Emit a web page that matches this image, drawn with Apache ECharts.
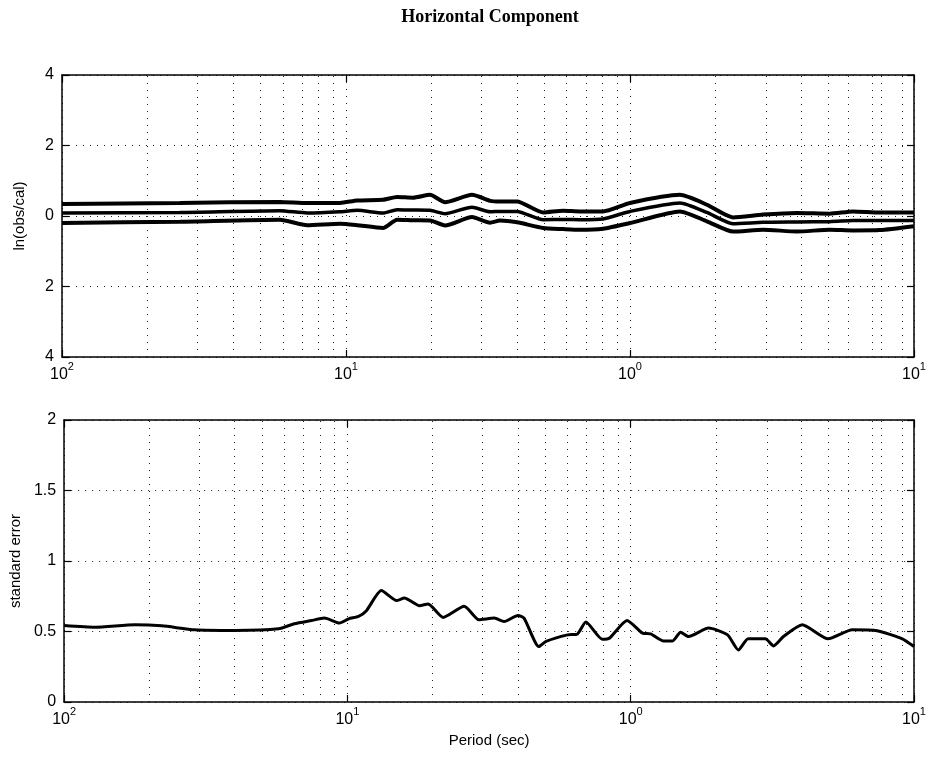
<!DOCTYPE html>
<html>
<head>
<meta charset="utf-8">
<script src="https://cdn.jsdelivr.net/npm/echarts@6/dist/echarts.min.js"></script>
<style>html,body{margin:0;padding:0;background:#fff}#c{width:931px;height:759px}</style>
</head>
<body>
<div id="c"></div>
<script>
// ---- data ----
const titleText = 'Horizontal Component';
const xTickValues = [100, 10, 1, 0.1];
const xTickSup = ['2', '1', '0', '1'];
// dotted minor grid positions as they appear in the reference (per decade, clustered toward the right end)
const minorTicks = [50, 33.33, 25, 20, 16.67, 14.29, 12.5, 11.11, 5, 3.333, 2.5, 2, 1.667, 1.429, 1.25, 1.111, 0.5, 0.3333, 0.25, 0.2, 0.1667, 0.1429, 0.125, 0.1111];

const topPeriod = [100, 38.5, 17.1, 13.7, 10.5, 9.14, 7.41, 6.61, 5.81, 5.06, 4.48, 3.60, 3.11, 2.87, 2.50, 2.02, 1.72, 1.50, 1.245, 1.0, 0.667, 0.536, 0.434, 0.340, 0.258, 0.198, 0.164, 0.132, 0.1];
const upperLn = [0.34, 0.37, 0.40, 0.37, 0.37, 0.44, 0.46, 0.54, 0.52, 0.60, 0.39, 0.60, 0.43, 0.41, 0.41, 0.10, 0.15, 0.13, 0.13, 0.37, 0.60, 0.32, -0.04, 0.04, 0.085, 0.065, 0.13, 0.10, 0.10];
const meanLn = [0.085, 0.10, 0.15, 0.085, 0.12, 0.16, 0.085, 0.18, 0.17, 0.16, 0.065, 0.25, 0.12, 0.13, 0.13, -0.105, -0.10, -0.105, -0.085, 0.13, 0.37, 0.10, -0.22, -0.18, -0.17, -0.16, -0.13, -0.125, -0.125];
const lowerLn = [-0.20, -0.16, -0.105, -0.26, -0.22, -0.26, -0.34, -0.105, -0.12, -0.125, -0.27, -0.03, -0.19, -0.13, -0.18, -0.34, -0.37, -0.39, -0.36, -0.20, 0.13, -0.15, -0.44, -0.39, -0.44, -0.39, -0.41, -0.40, -0.29];

const stdPeriod = [100, 77.8, 56.2, 45.2, 34.6, 25.0, 17.5, 15.4, 13.4, 12.05, 10.67, 9.9, 9.14, 8.57, 7.59, 6.71, 6.29, 5.57, 5.19, 4.59, 3.87, 3.43, 3.03, 2.80, 2.50, 2.38, 2.11, 1.99, 1.67, 1.54, 1.44, 1.26, 1.19, 1.03, 0.908, 0.851, 0.766, 0.711, 0.667, 0.625, 0.531, 0.455, 0.417, 0.385, 0.335, 0.313, 0.289, 0.248, 0.201, 0.165, 0.135, 0.110, 0.1];
const stdErr = [0.543, 0.531, 0.548, 0.54, 0.512, 0.507, 0.519, 0.555, 0.578, 0.595, 0.56, 0.59, 0.607, 0.648, 0.79, 0.719, 0.738, 0.683, 0.695, 0.60, 0.679, 0.583, 0.595, 0.571, 0.614, 0.595, 0.393, 0.43, 0.476, 0.483, 0.567, 0.445, 0.452, 0.578, 0.488, 0.483, 0.433, 0.433, 0.495, 0.464, 0.524, 0.476, 0.369, 0.448, 0.448, 0.398, 0.464, 0.548, 0.448, 0.512, 0.505, 0.448, 0.393];

// ---- build option ----
const FONT = '"Liberation Sans", Arial, Helvetica, sans-serif';
const dotted = {color: '#222', width: 1, type: [1, 6]};
const pair = (xs, ys) => xs.map((x, i) => [x, ys[i]]);

function xLabel(v) {
  const i = xTickValues.findIndex(t => Math.abs(Math.log10(t) - Math.log10(v)) < 1e-6);
  if (i < 0) return '';
  return '{b|10}{s|' + xTickSup[i] + '}';
}
const xRich = {
  b: {fontSize: 16, fontFamily: FONT, color: '#000', lineHeight: 22, verticalAlign: 'bottom'},
  s: {fontSize: 11, fontFamily: FONT, color: '#000', lineHeight: 22, verticalAlign: 'top'}
};

function xAxisMain(gridIndex, extra) {
  return Object.assign({
    type: 'log', logBase: 10, min: 0.1, max: 100, inverse: true, gridIndex,
    axisLine: {show: true, onZero: false, lineStyle: {color: '#000', width: 1.5}},
    axisTick: {show: true, inside: true, length: 7, lineStyle: {color: '#000', width: 1.2}},
    axisLabel: {formatter: xLabel, rich: xRich, margin: 4, color: '#000'},
    splitLine: {show: true, lineStyle: dotted},
    minorTick: {show: false}, minorSplitLine: {show: false}
  }, extra || {});
}
function xAxisTop(gridIndex) {
  return {
    type: 'log', logBase: 10, min: 0.1, max: 100, inverse: true, gridIndex, position: 'top',
    axisLine: {show: true, onZero: false, lineStyle: {color: '#000', width: 1.5}},
    axisTick: {show: true, inside: true, length: 7, lineStyle: {color: '#000', width: 1.2}},
    axisLabel: {show: false}, splitLine: {show: false}
  };
}
function yAxisMain(gridIndex, min, max, interval, name, fmt, gap) {
  return {
    type: 'value', gridIndex, min, max, interval, name, nameLocation: 'middle', nameGap: gap,
    nameTextStyle: {fontFamily: FONT, fontSize: 15, color: '#000'},
    axisLine: {show: true, onZero: false, lineStyle: {color: '#000', width: 1.5}},
    axisTick: {show: true, inside: true, length: 7, lineStyle: {color: '#000', width: 1.2}},
    axisLabel: {fontFamily: FONT, fontSize: 16, color: '#000', margin: 8, formatter: fmt},
    splitLine: {show: true, lineStyle: dotted}
  };
}
function yAxisRight(gridIndex, min, max, interval) {
  return {
    type: 'value', gridIndex, min, max, interval, position: 'right',
    axisLine: {show: true, onZero: false, lineStyle: {color: '#000', width: 1.5}},
    axisTick: {show: true, inside: true, length: 7, lineStyle: {color: '#000', width: 1.2}},
    axisLabel: {show: false}, splitLine: {show: false}
  };
}
function lineSeries(xi, yi, data, w) {
  return {type: 'line', xAxisIndex: xi, yAxisIndex: yi, data, showSymbol: false, symbol: 'none',
    smooth: 0.2, lineStyle: {color: '#000', width: w}, z: 5, silent: true, animation: false};
}
function minorGridSeries(xi, yi) {
  return {type: 'line', xAxisIndex: xi, yAxisIndex: yi, data: [], silent: true,
    markLine: {silent: true, symbol: 'none', label: {show: false}, animation: false,
      lineStyle: dotted, data: minorTicks.map(v => ({xAxis: v}))}};
}

const option = {
  animation: false,
  backgroundColor: '#fff',
  title: {text: titleText, left: 485, top: 3, textAlign: 'center',
    textStyle: {fontFamily: '"Liberation Serif", "Times New Roman", serif', fontWeight: 'bold', fontSize: 18, color: '#000'}},
  grid: [
    {left: 62, right: 17, top: 75, height: 282},
    {left: 62, right: 17, top: 420, height: 282}
  ],
  xAxis: [
    xAxisMain(0),
    xAxisMain(1, {name: 'Period (sec)', nameLocation: 'middle', nameGap: 31,
      nameTextStyle: {fontFamily: FONT, fontSize: 15, color: '#000'}}),
    xAxisTop(0),
    xAxisTop(1)
  ],
  yAxis: [
    yAxisMain(0, -4, 4, 2, 'ln(obs/cal)', v => String(Math.abs(v)), 35),
    yAxisMain(1, 0, 2, 0.5, 'standard error', v => String(v), 38),
    yAxisRight(0, -4, 4, 2),
    yAxisRight(1, 0, 2, 0.5)
  ],
  series: [
    minorGridSeries(0, 0),
    minorGridSeries(1, 1),
    lineSeries(0, 0, pair(topPeriod, upperLn), 4),
    lineSeries(0, 0, pair(topPeriod, meanLn), 3.5),
    lineSeries(0, 0, pair(topPeriod, lowerLn), 4),
    lineSeries(1, 1, pair(stdPeriod, stdErr), 3)
  ]
};
const chart = echarts.init(document.getElementById('c'), null, {renderer: 'canvas'});
chart.setOption(option);
</script>
</body>
</html>
